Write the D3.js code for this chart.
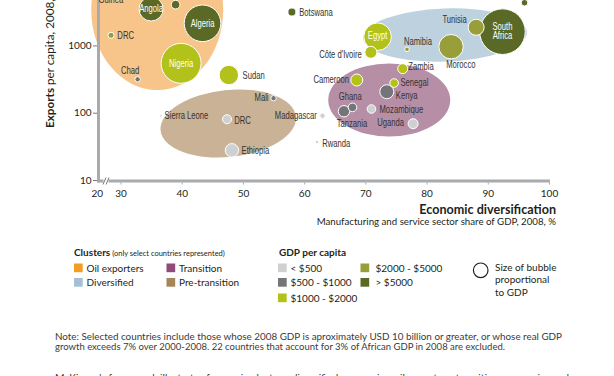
<!DOCTYPE html>
<html><head><meta charset="utf-8">
<script src="https://cdn.jsdelivr.net/npm/d3@7"></script>
<style>
html,body{margin:0;padding:0;background:#fff;}
svg{display:block;}
</style></head>
<body>
<svg id="chart" width="614" height="376"></svg>
<script>
// ---------- DATA ----------
const countries = ["Equatorial Guinea","Gabon","Angola","Algeria","DRC","Nigeria","Chad","Sudan",
  "Sierra Leone","DRC","Ethiopia","Mali","Madagascar","Rwanda",
  "Ghana","Tanzania","Kenya","Mozambique","Uganda","Zambia","Cameroon","Senegal",
  "Botswana","Egypt","Côte d'Ivoire","Namibia","Tunisia","Morocco","South Africa","Mauritius"];
const diversification = [25.8, 39.0, 35.0, 43.4, 25.9, 39.9, 32.8, 47.7,
  36.6, 47.4, 48.2, 55.0, 63.0, 62.1,
  67.9, 66.5, 73.5, 71.0, 77.8, 76.1, 68.6, 74.7,
  58.0, 72.0, 70.9, 76.8, 88.1, 84.0, 92.4, 96.0];
const exportsPerCapita = [25000, 4030, 3475, 2130, 1413, 542, 313, 363,
  90, 80, 27.6, 164, 90, 36.7,
  120, 105, 205, 113.5, 68.7, 451, 306, 276,
  3133, 1346, 789, 875, 1858, 957, 1600, 4305];
const gdpBillions = [13, 10, 77, 178, 5, 212, 3.9, 50,
  0.9, 10.8, 23.9, 3.9, 3.9, 1.5,
  9.8, 17.3, 26, 9.8, 13.3, 13.3, 19.1, 9.8,
  8.5, 101, 19.1, 2.8, 34, 79, 276, 5.8];
// GDP per capita band index (see gdpBands)
const gdpBandIndex = [4, 4, 4, 4, 3, 2, 1, 2,
  0, 0, 0, 1, 0, 0,
  1, 1, 1, 0, 0, 2, 2, 2,
  4, 2, 2, 3, 3, 3, 4, 4];
const clusterNames = ["Oil exporters", "Transition", "Diversified", "Pre-transition"];
const gdpBands = ["< $500", "$500 - $1000", "$1000 - $2000", "$2000 - $5000", "> $5000"];
// cluster region centres, in data units (diversification %, exports per capita)
const clusterCentreX = [36.0, 73.9, 83.0, 47.6];
const clusterCentreY = [3360, 154.6, 1427, 69.1];
const xTicks = [20, 30, 40, 50, 60, 70, 80, 90, 100];
const yTicks = [10, 100, 1000];

// ---------- STYLE / LAYOUT ----------
const clusterFill = ["#f7c48a", "#b68fa7", "#bdd1de", "#c9b296"];
const clusterSwatch = ["#f29d24", "#8e4b7c", "#a5c0d4", "#a6855a"];
const clusterShape = [ // rx, ry (px), rotation (deg)
  [66, 80, 0], [61, 36.5, 0], [82, 26.5, -2], [68, 33.5, -6]];
const bandColor = ["#cfd0d2", "#747578", "#b3c21b", "#979e3a", "#5a6a26"];
// label layout: [anchor, dx, dy, white?]  (null = label lies outside the picture)
const labelLayout = {
  0:["middle",0,51.5], 1:null, 2:["middle",0,3,1], 3:["middle",0,3.5,1],
  4:["start",6.3,3.5], 5:["middle",0,3.5,1], 6:["middle",-7.4,-5.5], 7:["start",13.7,3.5],
  8:["start",3.7,3.3], 9:["start",7.3,4.3], 10:["start",9.7,3.9], 11:["end",-5,2.5],
  12:["end",-5.6,3.3], 13:["start",5.3,4.6], 14:["middle",-2.3,-7.3], 15:["middle",8,15.5],
  16:["start",9,7], 17:["start",8,4.4], 18:["end",-9,2.7], 19:["start",5.6,1.3],
  20:["end",-7.7,3.4], 21:["start",6.4,3], 22:["start",7.3,3.5], 23:["middle",0,2,1],
  24:["end",-9,5.4], 25:["middle",11,-4.3], 26:["middle",-21.5,-3.9], 27:["middle",9.8,21.7],
  28:["middle",0,-1.7,1], 29:null
};
const multiLine = {0:["Equatorial","Guinea"], 28:["South","Africa"]};

const svg = d3.select("#chart");
const FONT = "Lato, 'Open Sans', sans-serif";
const NARROW = "'Liberation Sans', Arial, sans-serif";
const txt = "#231f20";

const x = d3.scaleLinear().domain([20, 30, 100]).range([97.5, 120.5, 549]);
const y = d3.scaleLog().domain([10, 1000]).range([180, 45.4]);
const r = d3.scaleSqrt().domain([0, 276]).range([0, 22.8]);

// cluster ellipses
const gC = svg.append("g");
[0, 3, 1, 2].forEach(i => {
  const cx = x(clusterCentreX[i]), cy = y(clusterCentreY[i]);
  const [rx, ry, rot] = clusterShape[i];
  gC.append("ellipse").attr("cx", cx).attr("cy", cy).attr("rx", rx).attr("ry", ry)
    .attr("transform", `rotate(${rot},${cx},${cy})`).attr("fill", clusterFill[i]);
});

// axes lines
const axisColor = "#a8aaad";
svg.append("line").attr("x1", 98.5).attr("x2", 98.5).attr("y1", -30).attr("y2", 182.5)
  .attr("stroke", axisColor).attr("stroke-width", 3);
svg.append("line").attr("x1", 97).attr("x2", x(100) + 1).attr("y1", 181).attr("y2", 181)
  .attr("stroke", axisColor).attr("stroke-width", 3);

// y axis ticks
const yAxis = svg.append("g").attr("transform", "translate(97,0)")
  .call(d3.axisLeft(y).tickValues(yTicks).tickFormat(d3.format("d")).tickSize(4).tickPadding(1.5));
yAxis.select(".domain").remove();
yAxis.selectAll("line").attr("stroke", "#555").attr("stroke-width", 0.8);
yAxis.selectAll("text").attr("font-family", FONT).attr("font-size", 10).attr("fill", txt);

// x axis ticks
const xAxis = svg.append("g").attr("transform", "translate(0,182.5)")
  .call(d3.axisBottom(x).tickValues(xTicks).tickFormat(d3.format("d")).tickSize(2).tickPadding(0));
xAxis.select(".domain").remove();
xAxis.selectAll("line").attr("stroke", axisColor).attr("stroke-width", 1);
xAxis.selectAll("text").attr("font-family", FONT).attr("font-size", 10).attr("fill", txt)
  .attr("dy", null).attr("y", 14);
xAxis.selectAll(".tick").filter(d => d === 20).select("line").remove();
xAxis.selectAll(".tick").filter(d => d === 20).select("text").attr("x", -0.8);

// axis break marks
const bx = 106, by = 181;
svg.append("rect").attr("x", bx - 2.5).attr("y", by - 2).attr("width", 5).attr("height", 4).attr("fill", "#fff");
[-1.5, 1.5].forEach(o => svg.append("line")
  .attr("x1", bx + o - 1.5).attr("y1", by + 3.5).attr("x2", bx + o + 1.5).attr("y2", by - 3.5)
  .attr("stroke", "#555").attr("stroke-width", 0.8));

// bubbles
const idx = d3.range(countries.length).sort((a, b) => gdpBillions[b] - gdpBillions[a]);
svg.append("g").selectAll("circle").data(idx).join("circle")
  .attr("cx", i => x(diversification[i])).attr("cy", i => y(exportsPerCapita[i]))
  .attr("r", i => r(gdpBillions[i]))
  .attr("fill", i => bandColor[gdpBandIndex[i]])
  .attr("stroke", "#fff").attr("stroke-width", 1);

// labels (condensed look)
const gL = svg.append("g").attr("font-family", NARROW).attr("font-size", 10.2);
countries.forEach((name, i) => {
  const lay = labelLayout[i];
  if (!lay) return;
  const [anchor, dx, dy, white] = lay;
  const cx = x(diversification[i]), cy = y(exportsPerCapita[i]);
  const lines = multiLine[i] || [name];
  const lh = i === 0 ? 10.5 : 9.5;
  const start = i === 0 ? -(lines.length - 1) * lh : 0;
  lines.forEach((ln, k) => {
    const t = gL.append("text").attr("text-anchor", anchor)
      .attr("fill", white ? "#fff" : "#333")
      .attr("x", cx + dx).attr("y", cy + dy + start + k * lh).text(ln);
    const len = t.node().getComputedTextLength();
    t.attr("textLength", len * 0.75).attr("lengthAdjust", "spacingAndGlyphs");
  });
});

// axis titles
const yt = svg.append("text").attr("transform", "translate(53.5,128) rotate(-90)")
  .attr("font-family", FONT).attr("font-size", 11.7).attr("fill", txt);
yt.append("tspan").attr("font-weight", "bold").text("Exports");
yt.append("tspan").text(" per capita, 2008, USD");

svg.append("text").attr("x", 556).attr("y", 214).attr("text-anchor", "end")
  .attr("font-family", FONT).attr("font-size", 12.6).attr("font-weight", "bold").attr("fill", txt)
  .text("Economic diversification");
svg.append("text").attr("x", 556).attr("y", 225.3).attr("text-anchor", "end")
  .attr("font-family", FONT).attr("font-size", 9.7).attr("fill", txt)
  .text("Manufacturing and service sector share of GDP, 2008, %");

// legend
const gLeg = svg.append("g").attr("font-family", FONT).attr("fill", txt);
const h1 = gLeg.append("text").attr("x", 74).attr("y", 256).attr("font-size", 10);
h1.append("tspan").attr("font-weight", "bold").text("Clusters");
h1.append("tspan").attr("font-size", 7.5).text(" (only select countries represented)");
const clusterPos = [[74, 263.5], [166.5, 263.5], [74, 278], [166.5, 278]];
clusterNames.forEach((n, i) => {
  const [lx, ly] = clusterPos[i];
  gLeg.append("rect").attr("x", lx).attr("y", ly).attr("width", 8.7).attr("height", 8.7).attr("fill", clusterSwatch[i]);
  gLeg.append("text").attr("x", lx + 12.5).attr("y", ly + 8).attr("font-size", 10).text(n);
});
gLeg.append("text").attr("x", 279).attr("y", 256).attr("font-size", 10).attr("font-weight", "bold").text("GDP per capita");
const bandPos = [[278, 263.5], [278, 278], [278, 293.5], [360.5, 263.5], [360.5, 278]];
gdpBands.forEach((n, i) => {
  const [lx, ly] = bandPos[i];
  gLeg.append("rect").attr("x", lx).attr("y", ly).attr("width", 8.7).attr("height", 8.7).attr("fill", bandColor[i]);
  gLeg.append("text").attr("x", lx + (i < 3 ? 12.5 : 15)).attr("y", ly + 8).attr("font-size", 10).text(n);
});
gLeg.append("circle").attr("cx", 480.7).attr("cy", 270.3).attr("r", 7.3)
  .attr("fill", "none").attr("stroke", txt).attr("stroke-width", 1.2);
["Size of bubble", "proportional", "to GDP"].forEach((s, k) =>
  gLeg.append("text").attr("x", 495).attr("y", 270.5 + k * 12.8).attr("font-size", 10).text(s));

// notes
const notes = [
  ["Note: Selected countries include those whose 2008 GDP is aproximately USD 10 billion or greater, or whose real GDP", 340.3, 507],
  ["growth exceeds 7% over 2000-2008. 22 countries that account for 3% of African GDP in 2008 are excluded.", 350.3, 450],
  ["McKinsey's framework illustrates four main clusters: diversified economies, oil exporters, transition economies and", 381, 514]
];
notes.forEach(([s, ny, w]) => svg.append("text").attr("x", 55).attr("y", ny)
  .attr("font-family", FONT).attr("font-size", 8.6).attr("fill", "#3a3a3a")
  .attr("textLength", w).attr("lengthAdjust", "spacingAndGlyphs").text(s));
</script>
</body></html>
